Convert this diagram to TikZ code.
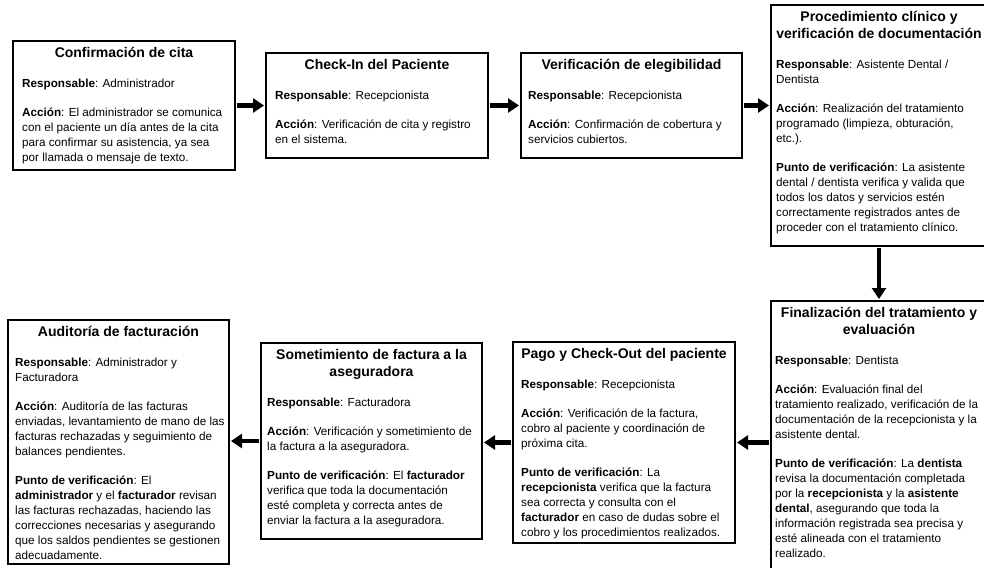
\documentclass[tikz,border=0pt]{standalone}
\usepackage{fontspec}
\setmainfont{Liberation Sans}
\usetikzlibrary{arrows.meta,calc}
\newcommand\mybstrut{\rule{0pt}{12pt}}
\newcommand\mytstrut{\rule{0pt}{14pt}}
\begin{document}
\begin{tikzpicture}[x=1pt,y=-1pt,
  box/.style={draw, line width=1.2pt, inner sep=0pt, outer sep=0pt},
  ttl/.style={anchor=north, align=center, inner sep=0pt, font=\bfseries\fontsize{14}{17.5}\selectfont},
  bdy/.style={anchor=north west, align=left, inner sep=0pt, font=\fontsize{11.7}{15}\selectfont},
  flow/.style={line width=4.5pt, -{Triangle[length=11pt,width=14pt]}, shorten <=2pt, shorten >=2pt}]
\useasboundingbox (0,0) rectangle (984,567);
\fill[white] (0,0) rectangle (984,567);
\clip (0,0) rectangle (984,567);

% boxes
\node[box, minimum width=222pt, minimum height=129pt] (b1) at (124,105.5) {};
\node[box, minimum width=222pt, minimum height=105pt] (b2) at (377,105.5) {};
\node[box, minimum width=221pt, minimum height=105pt] (b3) at (631.5,105.5) {};
\node[box, minimum width=216pt, minimum height=241pt] (b4) at (879,125.5) {};
\node[box, minimum width=216pt, minimum height=319pt] (b5) at (879,460.5) {};
\node[box, minimum width=222pt, minimum height=201pt] (b6) at (624,442.5) {};
\node[box, minimum width=221pt, minimum height=196pt] (b7) at (371.5,441) {};
\node[box, minimum width=221pt, minimum height=244pt] (b8) at (118.5,442) {};

% titles
\node[ttl] (t1) at ([yshift=-2pt]b1.north) {\mytstrut Confirmación de cita};
\node[ttl] (t2) at ([yshift=-2pt]b2.north) {\mytstrut Check-In del Paciente};
\node[ttl] (t3) at ([yshift=-2pt]b3.north) {\mytstrut Verificación de elegibilidad};
\node[ttl] (t4) at ([yshift=-2pt]b4.north) {\mytstrut Procedimiento clínico y\\verificación de documentación};
\node[ttl] (t5) at ([yshift=-2pt]b5.north) {\mytstrut Finalización del tratamiento y\\evaluación};
\node[ttl] (t6) at ([yshift=-2pt]b6.north) {\mytstrut Pago y Check-Out del paciente};
\node[ttl] (t7) at ([yshift=-2pt]b7.north) {\mytstrut Sometimiento de factura a la\\aseguradora};
\node[ttl] (t8) at ([yshift=-2pt]b8.north) {\mytstrut Auditoría de facturación};

% bodies
\node[bdy] (x1) at ([xshift=9pt,yshift=-34pt]b1.north west) {\mybstrut\textbf{Responsable}: Administrador\\[14pt]
\textbf{Acción}: El administrador se comunica\\
con el paciente un día antes de la cita\\
para confirmar su asistencia, ya sea\\
por llamada o mensaje de texto.};

\node[bdy] (x2) at ([xshift=9pt,yshift=-34pt]b2.north west) {\mybstrut\textbf{Responsable}: Recepcionista\\[14pt]
\textbf{Acción}: Verificación de cita y registro\\
en el sistema.};

\node[bdy] (x3) at ([xshift=7pt,yshift=-34pt]b3.north west) {\mybstrut\textbf{Responsable}: Recepcionista\\[14pt]
\textbf{Acción}: Confirmación de cobertura y\\
servicios cubiertos.};

\node[bdy] (x4) at ([xshift=5pt,yshift=-51.5pt]b4.north west) {\mybstrut\textbf{Responsable}: Asistente Dental /\\
Dentista\\[14pt]
\textbf{Acción}: Realización del tratamiento\\
programado (limpieza, obturación,\\
etc.).\\[14pt]
\textbf{Punto de verificación}: La asistente\\
dental / dentista verifica y valida que\\
todos los datos y servicios estén\\
correctamente registrados antes de\\
proceder con el tratamiento clínico.};

\node[bdy] (x5) at ([xshift=4pt,yshift=-51.5pt]b5.north west) {\mybstrut\textbf{Responsable}: Dentista\\[14pt]
\textbf{Acción}: Evaluación final del\\
tratamiento realizado, verificación de la\\
documentación de la recepcionista y la\\
asistente dental.\\[14pt]
\textbf{Punto de verificación}: La \textbf{dentista}\\
revisa la documentación completada\\
por la \textbf{recepcionista} y la \textbf{asistente}\\
\textbf{dental}, asegurando que toda la\\
información registrada sea precisa y\\
esté alineada con el tratamiento\\
realizado.};

\node[bdy] (x6) at ([xshift=8pt,yshift=-34pt]b6.north west) {\mybstrut\textbf{Responsable}: Recepcionista\\[14pt]
\textbf{Acción}: Verificación de la factura,\\
cobro al paciente y coordinación de\\
próxima cita.\\[14pt]
\textbf{Punto de verificación}: La\\
\textbf{recepcionista} verifica que la factura\\
sea correcta y consulta con el\\
\textbf{facturador} en caso de dudas sobre el\\
cobro y los procedimientos realizados.};

\node[bdy] (x7) at ([xshift=6pt,yshift=-51.5pt]b7.north west) {\mybstrut\textbf{Responsable}: Facturadora\\[14pt]
\textbf{Acción}: Verificación y sometimiento de\\
la factura a la aseguradora.\\[14pt]
\textbf{Punto de verificación}: El \textbf{facturador}\\
verifica que toda la documentación\\
esté completa y correcta antes de\\
enviar la factura a la aseguradora.};

\node[bdy] (x8) at ([xshift=7pt,yshift=-34pt]b8.north west) {\mybstrut\textbf{Responsable}: Administrador y\\
Facturadora\\[14pt]
\textbf{Acción}: Auditoría de las facturas\\
enviadas, levantamiento de mano de las\\
facturas rechazadas y seguimiento de\\
balances pendientes.\\[14pt]
\textbf{Punto de verificación}: El\\
\textbf{administrador} y el \textbf{facturador} revisan\\
las facturas rechazadas, haciendo las\\
correcciones necesarias y asegurando\\
que los saldos pendientes se gestionen\\
adecuadamente.};

% connectors
\draw[flow] (b1.east) -- (b2.west);
\draw[flow] (b2.east) -- (b3.west);
\draw[flow] (b3.east) -- (b3.east -| b4.west);
\draw[flow] (b4.south) -- (b5.north);
\draw[flow] (b6.east -| b5.west) -- (b6.east);
\draw[flow] (b6.west) -- (b6.west -| b7.east);
\draw[flow] (b7.west) -- (b7.west -| b8.east);
\end{tikzpicture}
\end{document}
